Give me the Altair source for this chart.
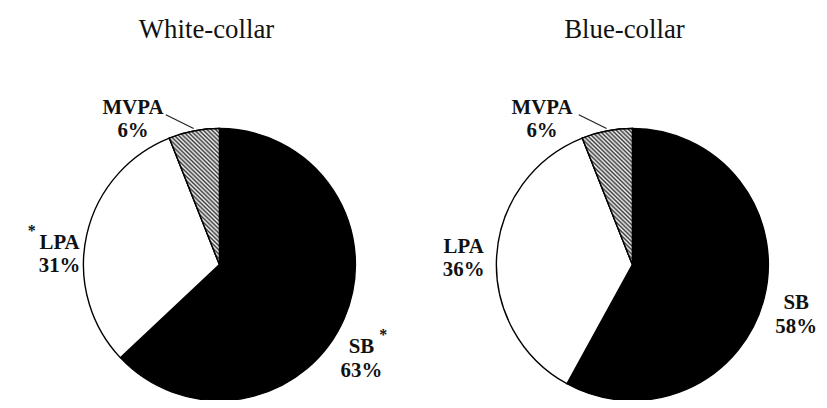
import altair as alt
import pandas as pd

groups = ["White-collar", "Blue-collar"]
categories = ["SB", "LPA", "MVPA"]
white_values = [63, 31, 6]
blue_values = [58, 36, 6]
white_sig = ["*", "*", ""]
blue_sig = ["", "", ""]

rows = []
for g, vals, sig in [(groups[0], white_values, white_sig), (groups[1], blue_values, blue_sig)]:
    for i, (c, v, s) in enumerate(zip(categories, vals, sig)):
        rows.append({"group": g, "cat": c, "value": v, "sig": s, "order": i})
df = pd.DataFrame(rows)

FONT = "Liberation Serif"
R = 137
CY = 257

xenc = alt.X("group:N", scale=alt.Scale(type="point", domain=groups, range=[213, 629], padding=0), axis=None)

base = alt.Chart(df).transform_stack(
    stack="value", groupby=["group"], as_=["v0", "v1"], sort=[alt.SortField("order")]
)

arcs = base.mark_arc(outerRadius=R, stroke="black", strokeWidth=1.4).encode(
    x=xenc,
    y=alt.value(CY),
    theta=alt.Theta("v0:Q", scale=alt.Scale(domain=[0, 100]), stack=None),
    theta2="v1:Q",
    color=alt.Color("cat:N", scale=alt.Scale(domain=categories, range=["#000000", "#ffffff", "#8a8a8a"]), legend=None),
)

n = 44
stops = []
for i in range(n):
    stops.append({"offset": i / n, "color": "#3a3a3a"})
    stops.append({"offset": (i + 0.5) / n, "color": "#f4f4f4"})
stops.append({"offset": 1.0, "color": "#3a3a3a"})
hatch = alt.LinearGradient(gradient="linear", stops=stops, x1=0, y1=1, x2=0.43, y2=-0.2)

mvpa = base.transform_filter(alt.datum.cat == "MVPA").mark_arc(
    outerRadius=R, stroke="black", strokeWidth=1.4, fill=hatch
).encode(
    x=xenc,
    y=alt.value(CY),
    theta=alt.Theta("v0:Q", scale=alt.Scale(domain=[0, 100]), stack=None),
    theta2="v1:Q",
)

label_offsets = {
    ("White-collar", "MVPA"): (-87, -158),
    ("Blue-collar", "MVPA"): (-91, -158),
    ("White-collar", "LPA"): (-161, -22),
    ("Blue-collar", "LPA"): (-170, -18),
    ("White-collar", "SB"): (143, 83),
    ("Blue-collar", "SB"): (165, 39),
}
star_offsets = {
    ("White-collar", "LPA"): (-189, -29),
    ("White-collar", "SB"): (165, 76),
}

layers = [arcs, mvpa]
for (g, c), (dx, dy) in label_offsets.items():
    layers.append(
        alt.Chart(df)
        .transform_filter((alt.datum.group == g) & (alt.datum.cat == c))
        .transform_calculate(label="datum.cat + '\\n' + datum.value + '%'")
        .mark_text(
            dx=dx, dy=dy, align="center", baseline="middle", font=FONT, fontWeight="bold",
            fontSize=21, lineBreak="\n", lineHeight=24, color="#111111",
        )
        .encode(x=xenc, y=alt.value(CY), text="label:N")
    )
for (g, c), (dx, dy) in star_offsets.items():
    layers.append(
        alt.Chart(df)
        .transform_filter((alt.datum.group == g) & (alt.datum.cat == c) & (alt.datum.sig != ""))
        .mark_text(dx=dx, dy=dy, align="center", baseline="alphabetic", font=FONT, fontWeight="bold",
                   fontSize=16, color="#111111")
        .encode(x=xenc, y=alt.value(CY), text="sig:N")
    )

leader = (
    alt.Chart(df)
    .transform_filter(alt.datum.cat == "MVPA")
    .mark_rule(color="#222222", strokeWidth=1.2, xOffset=-54, x2Offset=-26, yOffset=-151, y2Offset=-137)
    .encode(x=xenc, x2="group:N", y=alt.value(CY), y2=alt.value(CY))
)
layers.append(leader)

title_offsets = {"White-collar": -13, "Blue-collar": -8}
for g, dx in title_offsets.items():
    layers.append(
        alt.Chart(df)
        .transform_filter((alt.datum.group == g) & (alt.datum.cat == "SB"))
        .mark_text(dx=dx, align="center", baseline="alphabetic", font=FONT, fontSize=27, color="#111111")
        .encode(x=xenc, y=alt.value(29), text="group:N")
    )

chart = alt.layer(*layers).properties(
    width=817, height=392, padding=0, autosize=alt.AutoSizeParams(type="none")
).configure_view(stroke=None)

chart.save("out.html", embed_options={"renderer": "svg", "actions": False})
